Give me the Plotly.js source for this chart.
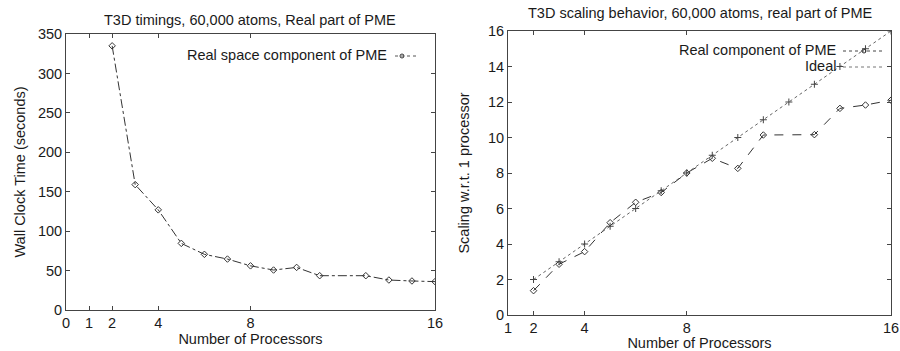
<!DOCTYPE html>
<html><head><meta charset="utf-8">
<script src="https://cdn.plot.ly/plotly-3.0.1.min.js"></script>
<style>html,body{margin:0;padding:0;background:#fff}#c{width:900px;height:351px}</style>
</head><body><div id="c"></div>
<script>
// Left chart: wall clock time vs processors
const procsLeft = [2, 3, 4, 5, 6, 7, 8, 9, 10, 11, 13, 14, 15, 16];
const wallTime = [335, 159, 127, 84.5, 70.6, 64.6, 56, 50.7, 54, 43.5, 43.5, 38, 36.8, 36];
const leftXTicks = [0, 1, 2, 4, 8, 16];
const leftYTicks = [0, 50, 100, 150, 200, 250, 300, 350];

// Right chart: scaling
const procsReal = [2, 3, 4, 5, 6, 7, 8, 9, 10, 11, 13, 14, 15, 16];
const scalingReal = [1.37, 2.86, 3.57, 5.2, 6.35, 6.9, 8.0, 8.83, 8.26, 10.14, 10.16, 11.64, 11.83, 12.1];
const procsIdeal = [2, 3, 4, 5, 6, 7, 8, 9, 10, 11, 12, 13, 14, 15, 16];
const scalingIdeal = [2, 3, 4, 5, 6, 7, 8, 9, 10, 11, 12, 13, 14, 15, 16];
const rightXTicks = [1, 2, 4, 8, 16];
const rightYTicks = [0, 2, 4, 6, 8, 10, 12, 14, 16];

const FONT = 'Liberation Sans, Arial, sans-serif';
const INK = '#1a1a1a';
const FS = 14.5;

const traces = [
  {x: procsLeft, y: wallTime, xaxis: 'x', yaxis: 'y', mode: 'lines+markers', name: 'Real space component of PME',
   line: {color: '#333', width: 1, dash: 'dashdot'}, marker: {symbol: 'diamond-open', size: 5, color: '#333', line: {width: 1}}, showlegend: false},
  {x: procsReal, y: scalingReal, xaxis: 'x2', yaxis: 'y2', mode: 'lines+markers', name: 'Real component of PME',
   line: {color: '#333', width: 1, dash: 'dash'}, marker: {symbol: 'diamond-open', size: 5, color: '#333', line: {width: 1}}, showlegend: false},
  {x: procsIdeal, y: scalingIdeal, xaxis: 'x2', yaxis: 'y2', mode: 'lines+markers', name: 'Ideal',
   line: {color: '#666', width: 1, dash: 'dot'}, marker: {symbol: 'cross-thin-open', size: 5, color: '#444', line: {width: 1, color: '#444'}}, showlegend: false}
];

const axBase = {
  showgrid: false, zeroline: false, showline: true, mirror: 'ticks', linecolor: '#444', linewidth: 1,
  ticks: 'inside', ticklen: 4, tickcolor: '#444', tickfont: {family: FONT, size: FS, color: INK}
};
const tf = {family: FONT, size: FS, color: INK};

const layout = {
  width: 900, height: 351,
  margin: {l: 0, r: 0, t: 0, b: 0},
  paper_bgcolor: '#fff', plot_bgcolor: '#fff',
  font: {family: FONT, color: INK},
  xaxis: Object.assign({}, axBase, {domain: [66/900, 435/900], range: [0, 16], tickvals: leftXTicks,
    anchor: 'y', title: {text: 'Number of Processors', font: tf, standoff: 0}}),
  yaxis: Object.assign({}, axBase, {domain: [1 - 310/351, 1 - 34/351], range: [0, 350], tickvals: leftYTicks,
    anchor: 'x', title: {text: 'Wall Clock Time (seconds)', font: tf, standoff: 8}}),
  xaxis2: Object.assign({}, axBase, {domain: [508/900, 891/900], range: [1, 16], tickvals: rightXTicks,
    anchor: 'y2', title: {text: 'Number of Processors', font: tf, standoff: 0}}),
  yaxis2: Object.assign({}, axBase, {domain: [1 - 315/351, 1 - 31/351], range: [0, 16], tickvals: rightYTicks,
    anchor: 'x2', title: {text: 'Scaling w.r.t. 1 processor', font: tf, standoff: 14}}),
  annotations: [
    {text: 'T3D timings, 60,000 atoms, Real part of PME', xref: 'paper', yref: 'paper', x: 250/900, y: 1 - 20/351,
     showarrow: false, xanchor: 'center', yanchor: 'middle', font: tf},
    {text: 'T3D scaling behavior, 60,000 atoms, real part of PME', xref: 'paper', yref: 'paper', x: 700/900, y: 1 - 13/351,
     showarrow: false, xanchor: 'center', yanchor: 'middle', font: tf},
    {text: 'Real space component of PME', xref: 'paper', yref: 'paper', x: 389/900, y: 1 - 55/351,
     showarrow: false, xanchor: 'right', yanchor: 'middle', font: tf},
    {text: 'Real component of PME', xref: 'paper', yref: 'paper', x: 838/900, y: 1 - 50/351,
     showarrow: false, xanchor: 'right', yanchor: 'middle', font: tf},
    {text: 'Ideal', xref: 'paper', yref: 'paper', x: 838/900, y: 1 - 66/351,
     showarrow: false, xanchor: 'right', yanchor: 'middle', font: tf}
  ],
  shapes: [
    {type: 'line', xref: 'paper', yref: 'paper', x0: 395/900, x1: 417/900, y0: 1 - 56/351, y1: 1 - 56/351, line: {color: '#555', width: 1, dash: 'dot'}},
    {type: 'circle', xref: 'paper', yref: 'paper', x0: 400/900, x1: 404/900, y0: 1 - 58/351, y1: 1 - 54/351, line: {color: '#333', width: 1}},
    {type: 'line', xref: 'paper', yref: 'paper', x0: 843/900, x1: 885/900, y0: 1 - 51/351, y1: 1 - 51/351, line: {color: '#444', width: 1, dash: 'dot'}},
    {type: 'circle', xref: 'paper', yref: 'paper', x0: 862/900, x1: 866/900, y0: 1 - 53/351, y1: 1 - 49/351, line: {color: '#333', width: 1}},
    {type: 'line', xref: 'paper', yref: 'paper', x0: 843/900, x1: 885/900, y0: 1 - 67/351, y1: 1 - 67/351, line: {color: '#777', width: 1, dash: 'dot'}}
  ]
};

Plotly.newPlot('c', traces, layout, {staticPlot: true, displayModeBar: false});
</script></body></html>
